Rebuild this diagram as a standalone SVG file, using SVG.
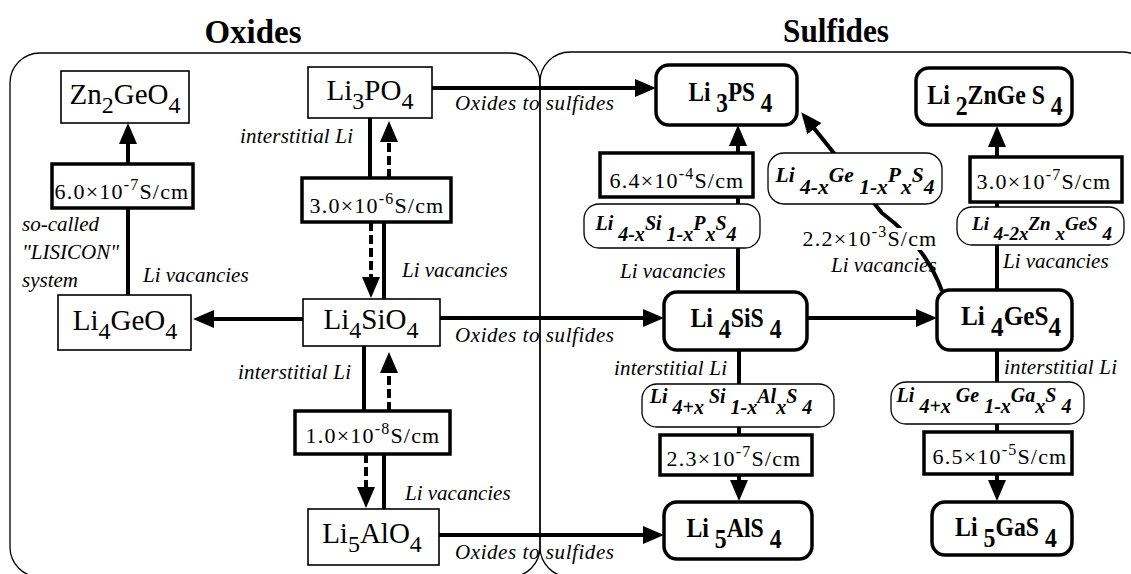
<svg xmlns="http://www.w3.org/2000/svg" width="1131" height="574" viewBox="0 0 1131 574">
<defs>
<style>
text{font-family:"Liberation Serif","Times New Roman",serif;fill:#000}
.panel{fill:none;stroke:#000;stroke-width:1.3}
.ox rect{fill:#fff;stroke:#000;stroke-width:1.6}
.cond rect{fill:#fff;stroke:#000;stroke-width:3.5}
.sul rect{fill:#fff;stroke:#000;stroke-width:3.5}
.fm rect{fill:#fff;stroke:#000;stroke-width:1.3}
.t-ox{font-size:29px}
.t-cond{font-size:22px;letter-spacing:1.2px}
.t-sul{font-size:28px;font-weight:bold}
.t-fm{font-size:20px;font-weight:bold;font-style:italic}
.lbl{font-size:21px;font-style:italic}
.title{font-size:34px;font-weight:bold}
.c{stroke:#000;stroke-width:4;fill:none}
.d{stroke-dasharray:9 4}
.sub{font-size:24px}
.sup{font-size:16px}
</style>
<marker id="ah" markerUnits="userSpaceOnUse" markerWidth="21" markerHeight="18" viewBox="0 0 21 18" refX="15" refY="9" orient="auto"><path d="M0,0 L21,9 L0,18 z" fill="#000"/></marker>
</defs>
<rect width="1131" height="574" fill="#fff"/>

<g id="panels">
<rect class="panel" x="10" y="53" width="530" height="524" rx="30"/>
<rect class="panel" x="540" y="52" width="612" height="525" rx="30"/>
<text class="title" x="253" y="43" text-anchor="middle" textLength="97" lengthAdjust="spacingAndGlyphs">Oxides</text>
<text class="title" x="836" y="42" text-anchor="middle" textLength="106" lengthAdjust="spacingAndGlyphs">Sulfides</text>
</g>

<g id="labels">
<text class="lbl" x="240" y="143" textLength="113">interstitial Li</text>
<text class="lbl" x="22" y="231">so-called</text>
<text class="lbl" x="22" y="259">"LISICON"</text>
<text class="lbl" x="22" y="287">system</text>
<text class="lbl" x="143" y="282">Li vacancies</text>
<text class="lbl" x="402" y="277">Li vacancies</text>
<text class="lbl" x="455" y="110" textLength="159">Oxides to sulfides</text>
<text class="lbl" x="455" y="342" textLength="159">Oxides to sulfides</text>
<text class="lbl" x="455" y="559" textLength="159">Oxides to sulfides</text>
<text class="lbl" x="238" y="379" textLength="113">interstitial Li</text>
<text class="lbl" x="405" y="500">Li vacancies</text>
<text class="lbl" x="620" y="278">Li vacancies</text>
<text class="lbl" x="831" y="272">Li vacancies</text>
<text class="lbl" x="1003" y="268">Li vacancies</text>
<text class="lbl" x="614" y="375" textLength="113">interstitial Li</text>
<text class="lbl" x="1004" y="374" textLength="113">interstitial Li</text>
</g>

<g id="connectors">
<path class="c" d="M128,164 V129" marker-end="url(#ah)"/>
<path class="c" d="M128,208 V295"/>
<path class="c" d="M303,319 H199" marker-end="url(#ah)"/>
<path class="c" d="M370,118 V178"/>
<path class="c d" d="M389,178 V127" marker-end="url(#ah)"/>
<path class="c d" d="M371,222 V292" marker-end="url(#ah)"/>
<path class="c" d="M384,222 V299"/>
<path class="c" d="M364,346 V411"/>
<path class="c d" d="M389,411 V358" marker-end="url(#ah)"/>
<path class="c d" d="M366,454 V502" marker-end="url(#ah)"/>
<path class="c" d="M384,454 V509"/>
<path class="c" d="M432,88 H650" marker-end="url(#ah)"/>
<path class="c" d="M440,318 H658" marker-end="url(#ah)"/>
<path class="c" d="M439,535 H658" marker-end="url(#ah)"/>
<path class="c" d="M738,292 V131" marker-end="url(#ah)"/>
<path class="c" d="M997,290 V132" marker-end="url(#ah)"/>
<path class="c" d="M807,318 H931" marker-end="url(#ah)"/>
<path class="c" d="M739,350 V495" marker-end="url(#ah)"/>
<path class="c" d="M997,350 V495" marker-end="url(#ah)"/>
<path class="c" d="M942,291 Q925,245 882,213 L805,117" marker-end="url(#ah)"/>
</g>

<g id="n-zn2geo4" class="ox"><rect x="61" y="71" width="128" height="52"/><text class="t-ox" x="125" y="104" text-anchor="middle">Zn<tspan class="sub" dy="9">2</tspan><tspan dy="-9">GeO</tspan><tspan class="sub" dy="9">4</tspan></text></g>
<g id="n-li3po4" class="ox"><rect x="308" y="67" width="124" height="51"/><text class="t-ox" x="370" y="100" text-anchor="middle">Li<tspan class="sub" dy="9">3</tspan><tspan dy="-9">PO</tspan><tspan class="sub" dy="9">4</tspan></text></g>
<g id="n-li4geo4" class="ox"><rect x="58" y="295" width="133" height="55"/><text class="t-ox" x="125" y="330" text-anchor="middle">Li<tspan class="sub" dy="9">4</tspan><tspan dy="-9">GeO</tspan><tspan class="sub" dy="9">4</tspan></text></g>
<g id="n-li4sio4" class="ox"><rect x="303" y="299" width="137" height="47"/><text class="t-ox" x="371" y="329" text-anchor="middle">Li<tspan class="sub" dy="9">4</tspan><tspan dy="-9">SiO</tspan><tspan class="sub" dy="9">4</tspan></text></g>
<g id="n-li5alo4" class="ox"><rect x="308" y="509" width="131" height="56"/><text class="t-ox" x="372" y="543" text-anchor="middle">Li<tspan class="sub" dy="9">5</tspan><tspan dy="-9">AlO</tspan><tspan class="sub" dy="9">4</tspan></text></g>

<g id="c-60" class="cond"><rect x="52" y="164" width="141" height="44"/><text class="t-cond" x="122" y="199" text-anchor="middle">6.0×10<tspan class="sup" dy="-9">-7</tspan><tspan dy="9">S/cm</tspan></text></g>
<g id="c-30a" class="cond"><rect x="302" y="178" width="149" height="44"/><text class="t-cond" x="377" y="213" text-anchor="middle">3.0×10<tspan class="sup" dy="-9">-6</tspan><tspan dy="9">S/cm</tspan></text></g>
<g id="c-10" class="cond"><rect x="295" y="411" width="155" height="43"/><text class="t-cond" x="373" y="443" text-anchor="middle">1.0×10<tspan class="sup" dy="-9">-8</tspan><tspan dy="9">S/cm</tspan></text></g>
<g id="c-64" class="cond"><rect x="600" y="153" width="153" height="44"/><text class="t-cond" x="677" y="188" text-anchor="middle">6.4×10<tspan class="sup" dy="-9">-4</tspan><tspan dy="9">S/cm</tspan></text></g>
<g id="c-30b" class="cond"><rect x="970" y="157" width="152" height="45"/><text class="t-cond" x="1044" y="189" text-anchor="middle">3.0×10<tspan class="sup" dy="-9">-7</tspan><tspan dy="9">S/cm</tspan></text></g>
<g id="c-23" class="cond"><rect x="660" y="435" width="152" height="40"/><text class="t-cond" x="734" y="466" text-anchor="middle">2.3×10<tspan class="sup" dy="-9">-7</tspan><tspan dy="9">S/cm</tspan></text></g>
<g id="c-65" class="cond"><rect x="924" y="432" width="148" height="42"/><text class="t-cond" x="1000" y="464" text-anchor="middle">6.5×10<tspan class="sup" dy="-9">-5</tspan><tspan dy="9">S/cm</tspan></text></g>
<g id="c-22"><rect x="800" y="228" width="140" height="22" fill="#fff"/><text class="t-cond" x="870" y="246" text-anchor="middle">2.2×10<tspan class="sup" dy="-9">-3</tspan><tspan dy="9">S/cm</tspan></text></g>

<g id="n-li3ps4" class="sul"><rect x="656" y="65" width="141" height="60" rx="13"/><text class="t-sul" transform="translate(730.5,101) scale(0.83,1)" text-anchor="middle">Li <tspan dy="11">3</tspan><tspan dy="-11">PS </tspan><tspan dy="11">4</tspan></text></g>
<g id="n-li2znges4" class="sul"><rect x="916" y="68" width="156" height="57" rx="13"/><text class="t-sul" transform="translate(995,104) scale(0.85,1)" text-anchor="middle">Li <tspan dy="11">2</tspan><tspan dy="-11">ZnGe S </tspan><tspan dy="11">4</tspan></text></g>
<g id="n-li4sis4" class="sul"><rect x="664" y="292" width="143" height="58" rx="13"/><text class="t-sul" transform="translate(736,327) scale(0.85,1)" text-anchor="middle">Li <tspan dy="11">4</tspan><tspan dy="-11">SiS </tspan><tspan dy="11">4</tspan></text></g>
<g id="n-li4ges4" class="sul"><rect x="937" y="290" width="135" height="60" rx="13"/><text class="t-sul" transform="translate(1011,325) scale(0.9,1)" text-anchor="middle">Li <tspan dy="11">4</tspan><tspan dy="-11">GeS</tspan><tspan dy="11">4</tspan></text></g>
<g id="n-li5als4" class="sul"><rect x="664" y="502" width="148" height="57" rx="13"/><text class="t-sul" transform="translate(734,537) scale(0.85,1)" text-anchor="middle">Li <tspan dy="11">5</tspan><tspan dy="-11">AlS </tspan><tspan dy="11">4</tspan></text></g>
<g id="n-li5gas4" class="sul"><rect x="932" y="502" width="140" height="53" rx="13"/><text class="t-sul" transform="translate(1006,536) scale(0.85,1)" text-anchor="middle">Li <tspan dy="11">5</tspan><tspan dy="-11">GaS </tspan><tspan dy="11">4</tspan></text></g>

<g id="f-sip" class="fm"><rect x="584" y="204" width="176" height="44" rx="15"/><text class="t-fm" x="666" y="230" text-anchor="middle">Li <tspan dy="11">4-x</tspan><tspan dy="-11">Si </tspan><tspan dy="11">1-x</tspan><tspan dy="-11">P</tspan><tspan dy="11">x</tspan><tspan dy="-11">S</tspan><tspan dy="11">4</tspan></text></g>
<g id="f-gep" class="fm"><rect x="768" y="153" width="174" height="51" rx="16"/><text class="t-fm" x="855" y="182" text-anchor="middle" style="font-size:21.5px">Li <tspan dy="12">4-x</tspan><tspan dy="-12">Ge </tspan><tspan dy="12">1-x</tspan><tspan dy="-12">P</tspan><tspan dy="12">x</tspan><tspan dy="-12">S</tspan><tspan dy="12">4</tspan></text></g>
<g id="f-zn" class="fm"><rect x="957" y="207" width="167" height="38" rx="15"/><text class="t-fm" x="1042" y="230" text-anchor="middle" style="font-size:19px">Li <tspan dy="10">4-2x</tspan><tspan dy="-10">Zn </tspan><tspan dy="10">x</tspan><tspan dy="-10">GeS </tspan><tspan dy="10">4</tspan></text></g>
<g id="f-sial" class="fm"><rect x="642" y="384" width="192" height="43" rx="15"/><text class="t-fm" x="731" y="403" text-anchor="middle">Li <tspan dy="11">4+x </tspan><tspan dy="-11">Si </tspan><tspan dy="11">1-x</tspan><tspan dy="-11">Al</tspan><tspan dy="11">x</tspan><tspan dy="-11">S </tspan><tspan dy="11">4</tspan></text></g>
<g id="f-gega" class="fm"><rect x="891" y="382" width="193" height="42" rx="15"/><text class="t-fm" x="984" y="402" text-anchor="middle">Li <tspan dy="11">4+x </tspan><tspan dy="-11">Ge </tspan><tspan dy="11">1-x</tspan><tspan dy="-11">Ga</tspan><tspan dy="11">x</tspan><tspan dy="-11">S </tspan><tspan dy="11">4</tspan></text></g>
</svg>
